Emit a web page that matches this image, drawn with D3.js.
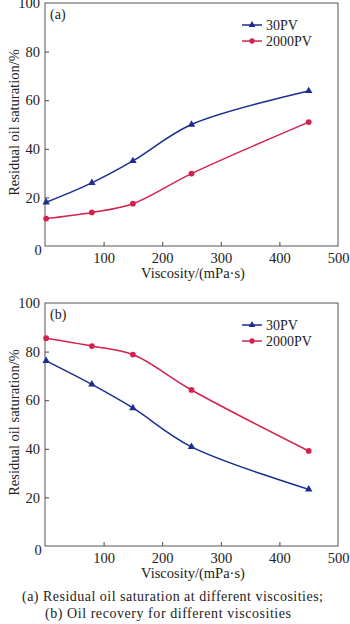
<!DOCTYPE html>
<html>
<head>
<meta charset="utf-8">
<script src="https://cdn.jsdelivr.net/npm/d3@7"></script>
<style>
  body { margin: 0; background: #fff; }
  svg text { font-family: "Liberation Serif", "Times New Roman", Times, serif; }
</style>
</head>
<body>
<div id="chart"></div>
<script>
// viscosity (mPa·s)
const viscosity = [2, 80, 150, 250, 450];

// (a) residual oil saturation
const a30PV   = [18, 26, 35, 50, 63.8];
const a2000PV = [11.3, 13.8, 17.4, 29.8, 51];

// (b) oil recovery
const b30PV   = [76.2, 66.5, 56.8, 40.8, 23.3];
const b2000PV = [85.5, 82.3, 78.8, 64.2, 39.1];

const xTicks = [100, 200, 300, 400, 500];
const yTicks = [20, 40, 60, 80, 100];

const blue = "#1b2d91";
const red = "#d3224f";
const serif = '"Liberation Serif", "Times New Roman", Times, serif';

const svg = d3.select("#chart").append("svg")
    .attr("width", 350)
    .attr("height", 624);

const x = d3.scaleLinear().domain([0, 500]).range([45, 338]);

function txt(sel, size) {
    return sel.style("font-family", serif).style("font-size", size + "px").attr("fill", "#222");
}

function drawPanel(top, bottom, label, s30, s2000) {
    let y = d3.scaleLinear().domain([0, 100]).range([bottom, top]);
    let g = svg.append("g");

    // x axis
    let xa = g.append("g")
        .attr("transform", `translate(0, ${bottom})`)
        .call(d3.axisBottom(x).tickValues(xTicks).tickSizeInner(-4).tickSizeOuter(0).tickPadding(7));
    xa.attr("font-family", null);
    xa.select(".domain").remove();
    xa.selectAll("line").attr("stroke", "#444").filter(d => d === 500).remove();
    txt(xa.selectAll("text"), 14.5);

    // y axis
    let ya = g.append("g")
        .attr("transform", "translate(45, 0)")
        .call(d3.axisLeft(y).tickValues(yTicks).tickSizeInner(-4).tickSizeOuter(0).tickPadding(5));
    ya.attr("font-family", null);
    ya.select(".domain").remove();
    ya.selectAll("line").attr("stroke", "#444").filter(d => d === 100).remove();
    txt(ya.selectAll("text"), 14.5);

    // zero label sits in the corner
    txt(g.append("text"), 14.5)
        .attr("x", 38).attr("y", bottom + 9)
        .attr("text-anchor", "middle")
        .text("0");

    // frame
    g.append("rect")
        .attr("x", 45).attr("y", top)
        .attr("width", 338 - 45).attr("height", bottom - top)
        .attr("fill", "none").attr("stroke", "#555").attr("stroke-width", 1);

    txt(g.append("text"), 14)
        .attr("x", 50).attr("y", top + 16)
        .text(label);

    // axis titles
    txt(g.append("text"), 14.5)
        .attr("x", 193).attr("y", bottom + 32)
        .attr("text-anchor", "middle")
        .text("Viscosity/(mPa·s)");

    txt(g.append("text"), 14.5)
        .attr("transform", `translate(14, ${(top + bottom) / 2 - 2}) rotate(-90)`)
        .attr("text-anchor", "middle")
        .attr("dy", "0.35em")
        .text("Residual oil saturation/%");

    let line = d3.line()
        .x(d => x(d[0]))
        .y(d => y(d[1]))
        .curve(d3.curveCatmullRom.alpha(0.5));

    let series = [
        { name: "30PV", vals: s30, color: blue, symbol: d3.symbolTriangle },
        { name: "2000PV", vals: s2000, color: red, symbol: d3.symbolCircle }
    ];

    series.forEach((s, i) => {
        let pts = viscosity.map((v, j) => [v, s.vals[j]]);
        g.append("path")
            .datum(pts)
            .attr("d", line)
            .attr("fill", "none")
            .attr("stroke", s.color)
            .attr("stroke-width", 1.5);

        g.selectAll(null)
            .data(pts)
            .enter().append("path")
            .attr("transform", d => `translate(${x(d[0])}, ${y(d[1])})`)
            .attr("d", d3.symbol().type(s.symbol).size(s.symbol === d3.symbolCircle ? 26 : 24))
            .attr("fill", s.color);

        // legend
        let ly = top + 22 + i * 16;
        g.append("line")
            .attr("x1", 242).attr("x2", 262)
            .attr("y1", ly).attr("y2", ly)
            .attr("stroke", s.color).attr("stroke-width", 1.5);
        g.append("path")
            .attr("transform", `translate(252, ${ly})`)
            .attr("d", d3.symbol().type(s.symbol).size(s.symbol === d3.symbolCircle ? 22 : 20))
            .attr("fill", s.color);
        txt(g.append("text"), 14)
            .attr("x", 266).attr("y", ly)
            .attr("dy", "0.35em")
            .text(s.name);
    });
}

drawPanel(3, 246, "(a)", a30PV, a2000PV);
drawPanel(303, 546, "(b)", b30PV, b2000PV);

// caption
txt(svg.append("text"), 14)
    .attr("x", 22).attr("y", 601)
    .attr("textLength", 301).attr("lengthAdjust", "spacing")
    .text("(a) Residual oil saturation at different viscosities;");

txt(svg.append("text"), 14)
    .attr("x", 45).attr("y", 618)
    .attr("textLength", 246).attr("lengthAdjust", "spacing")
    .text("(b) Oil recovery for different viscosities");
</script>
</body>
</html>
